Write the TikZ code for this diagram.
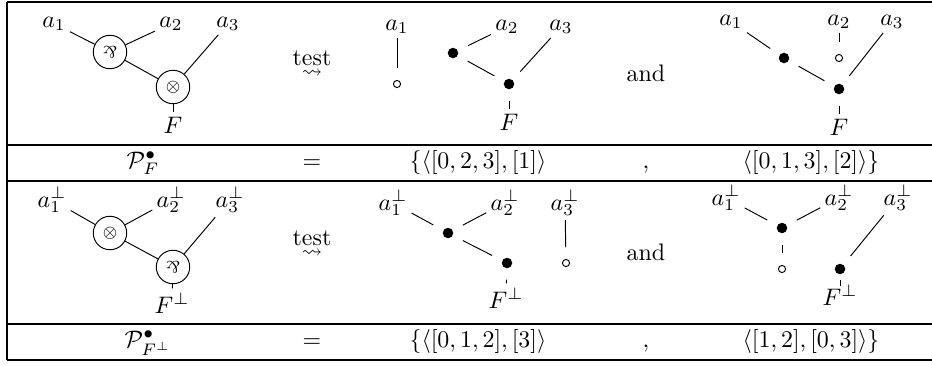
\documentclass[tikz,border=0pt]{standalone}
\usepackage{amssymb}
\usepackage{graphicx}
\begin{document}
\begin{tikzpicture}[x=0.4184pt,y=-0.4184pt,
  lbl/.style={inner sep=1.6pt, anchor=base},
  txt/.style={inner sep=0pt, anchor=base},
  opnode/.style={circle, draw, line width=0.4pt, minimum size=14pt, inner sep=0pt, font=\scriptsize},
  bdot/.style={circle, fill=black, inner sep=0pt, minimum size=4.4pt, outer sep=4.8pt},
  wdot/.style={circle, draw, line width=0.4pt, inner sep=0pt, minimum size=3pt, outer sep=5pt},
  conn/.style={line width=0.4pt},
  rule/.style={line width=0.45pt},
  sq/.style={inner sep=0pt, font=\fontsize{8.5}{10}\selectfont}]
\useasboundingbox (0,0) rectangle (932,364);
% table rules
\draw[rule] (7,2) -- (932,2);
\draw[rule] (7,145) -- (932,145);
\draw[rule] (7,181) -- (932,181);
\draw[rule] (7,324) -- (932,324);
\draw[rule] (7,360) -- (932,360);
\draw[rule] (7,2) -- (7,360);
\newcommand{\parrsym}{\rotatebox[origin=c]{180}{$\&$}}
% ---------- row 1, left graph
\node[lbl] (la1) at (54,27) {$a_1$};
\node[lbl] (la2) at (171,27) {$a_2$};
\node[lbl] (la3) at (228,27) {$a_3$};
\node[opnode] (lpar) at (110,52) {\parrsym};
\node[opnode] (lten) at (173,87) {$\otimes$};
\node[lbl] (lF) at (173,133) {$F$};
\draw[conn] (la1) -- (lpar);
\draw[conn] (lpar) -- (la2);
\draw[conn] (lpar) -- (lten);
\draw[conn] (lten) -- (la3);
\draw[conn] (lten) -- (lF);
% test arrow
\node[txt] (t1) at (312,65) {test};
\node[sq] (t1a) at (312,74) {$\rightsquigarrow$};
% ---------- row 1, middle graph
\node[lbl] (ma1) at (397,30) {$a_1$};
\node[lbl] (ma2) at (507,30) {$a_2$};
\node[lbl] (ma3) at (561,30) {$a_3$};
\node[wdot] (mw) at (397,84) {};
\node[bdot] (mb1) at (453,53) {};
\node[bdot] (mb2) at (509,84) {};
\node[lbl] (mF) at (509,130) {$F$};
\draw[conn] (ma1) -- (mw);
\draw[conn] (mb1) -- (ma2);
\draw[conn] (mb1) -- (mb2);
\draw[conn] (mb2) -- (ma3);
\draw[conn] (mb2) -- (mF);
\node[txt] (and1) at (646,81) {and};
% ---------- row 1, right graph
\node[lbl] (ra1) at (731,25) {$a_1$};
\node[lbl] (ra2) at (839,25) {$a_2$};
\node[lbl] (ra3) at (892,25) {$a_3$};
\node[bdot] (rb1) at (784,58) {};
\node[wdot] (rw) at (839,58) {};
\node[bdot] (rb2) at (839,89) {};
\node[lbl] (rF) at (839,135) {$F$};
\draw[conn] (ra1) -- (rb1);
\draw[conn] (rb1) -- (rb2);
\draw[conn] (ra2) -- (rw);
\draw[conn] (rb2) -- (ra3);
\draw[conn] (rb2) -- (rF);
% ---------- row 2
\node[txt] (p1) at (143,168) {$\mathcal{P}^\bullet_F$};
\node[txt] (eq1) at (312,168) {$=$};
\node[txt] (s11) at (478,168) {$\{\langle[0,2,3],[1]\rangle$};
\node[txt] (c1) at (646,168) {$,$};
\node[txt] (s12) at (811,168) {$\langle[0,1,3],[2]\rangle\}$};
% ---------- row 3, left graph
\node[lbl] (La1) at (52,207) {$a_1^\perp$};
\node[lbl] (La2) at (171,207) {$a_2^\perp$};
\node[lbl] (La3) at (230,207) {$a_3^\perp$};
\node[opnode] (Lten) at (110,233) {$\otimes$};
\node[opnode] (Lpar) at (173,267) {\parrsym};
\node[lbl] (LF) at (172,313) {$F^\perp$};
\draw[conn] (La1) -- (Lten);
\draw[conn] (Lten) -- (La2);
\draw[conn] (Lten) -- (Lpar);
\draw[conn] (Lpar) -- (La3);
\draw[conn] (Lpar) -- (LF);
\node[txt] (t2) at (312,245) {test};
\node[sq] (t2a) at (312,254) {$\rightsquigarrow$};
% ---------- row 3, middle graph
\node[lbl] (Ma1) at (393,210) {$a_1^\perp$};
\node[lbl] (Ma2) at (505,210) {$a_2^\perp$};
\node[lbl] (Ma3) at (565,210) {$a_3^\perp$};
\node[bdot] (Mb1) at (448,233) {};
\node[bdot] (Mb2) at (507,263) {};
\node[wdot] (Mw) at (566,263) {};
\node[lbl] (MF) at (506,308) {$F^\perp$};
\draw[conn] (Ma1) -- (Mb1);
\draw[conn] (Mb1) -- (Ma2);
\draw[conn] (Mb1) -- (Mb2);
\draw[conn] (Ma3) -- (Mw);
\draw[conn] (Mb2) -- (MF);
\node[txt] (and2) at (646,260) {and};
% ---------- row 3, right graph
\node[lbl] (Ra1) at (726,205) {$a_1^\perp$};
\node[lbl] (Ra2) at (839,205) {$a_2^\perp$};
\node[lbl] (Ra3) at (898,205) {$a_3^\perp$};
\node[bdot] (Rb1) at (782,228) {};
\node[wdot] (Rw) at (782,269) {};
\node[bdot] (Rb2) at (840,269) {};
\node[lbl] (RF) at (840,305) {$F^\perp$};
\draw[conn] (Ra1) -- (Rb1);
\draw[conn] (Rb1) -- (Ra2);
\draw[conn] (Rb1) -- (Rw);
\draw[conn] (Rb2) -- (Ra3);
\draw[conn] (Rb2) -- (RF);
% ---------- row 4
\node[txt] (p2) at (148,347) {$\mathcal{P}^\bullet_{F^\perp}$};
\node[txt] (eq2) at (312,347) {$=$};
\node[txt] (s21) at (478,347) {$\{\langle[0,1,2],[3]\rangle$};
\node[txt] (c2) at (646,347) {$,$};
\node[txt] (s22) at (811,347) {$\langle[1,2],[0,3]\rangle\}$};
\end{tikzpicture}
\end{document}
